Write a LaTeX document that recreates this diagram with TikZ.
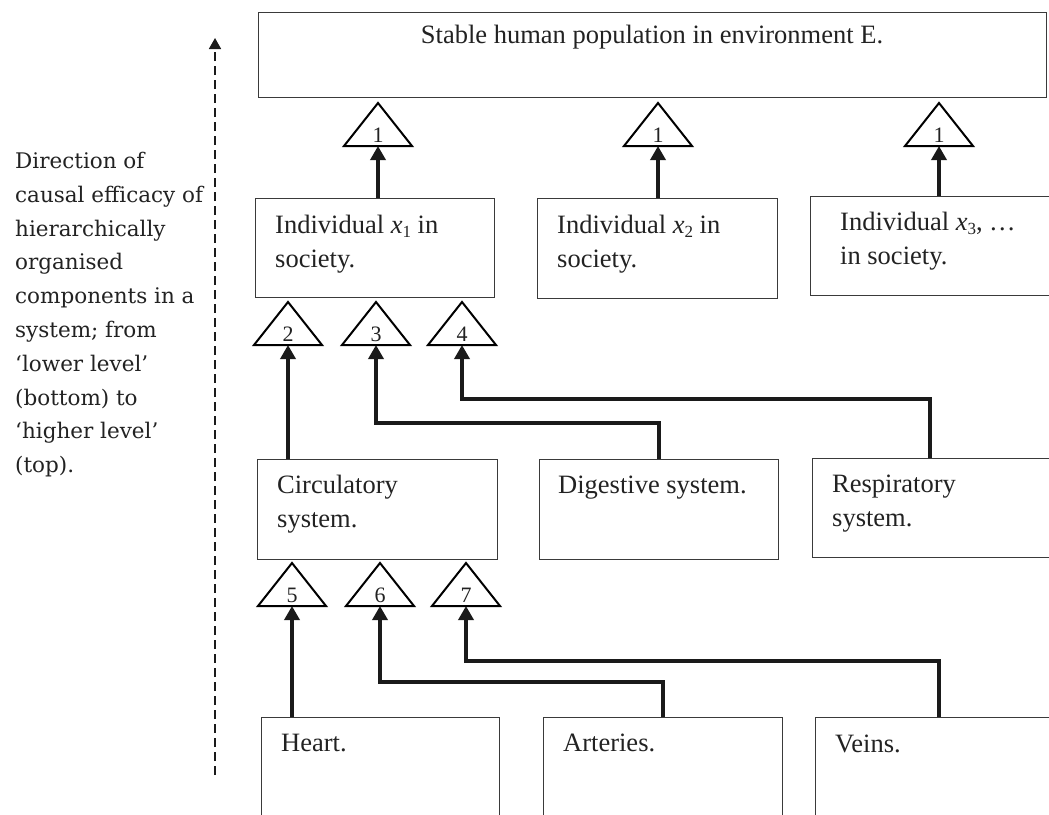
\documentclass[tikz,border=0pt]{standalone}
\usepackage{fontspec}
\setmainfont{Liberation Serif}
\newfontfamily\leftfont{DejaVu Serif}
\usetikzlibrary{arrows.meta,calc}
\definecolor{boxgray}{HTML}{3A3A3A}
\definecolor{textblack}{HTML}{222222}
\definecolor{arrowblack}{HTML}{1A1A1A}
\newcommand\mysub[1]{\raisebox{-4pt}{\fontsize{17}{17}\selectfont #1}}
\newcommand\mytri[4]{%
  \draw[tri] (#2,#3) -- ++(-34,43) -- ++(68,0) -- cycle;
  \coordinate (#1) at (#2,#3+43);
  \node[num] (#1n) at (#2,#3+39) {#4};}
\begin{document}
\begin{tikzpicture}[x=1pt,y=-1pt,
  box/.style={draw=boxgray, line width=1.2pt, rectangle, inner sep=0pt, anchor=north west},
  txt/.style={anchor=base west, inner sep=0pt, font=\fontsize{26.5}{34}\selectfont, text=textblack, align=left},
  tri/.style={draw=black, line width=2pt, line join=miter, fill=white},
  num/.style={anchor=base, inner sep=0pt, font=\fontsize{22}{22}\selectfont, text=textblack},
  arr/.style={line width=3.4pt, draw=arrowblack, -{Triangle[width=15pt,length=14pt]}, line join=miter},
  dasharr/.style={line width=1.7pt, draw=arrowblack, dash pattern=on 9pt off 5pt, -{Triangle[width=12pt,length=11pt]}}
]
\useasboundingbox (0,0) rectangle (1049,814);
\clip (0,0) rectangle (1049,814);

% boxes
\node[box, minimum width=788pt, minimum height=85pt] (top) at (258,12) {};
\node[box, minimum width=239pt, minimum height=99pt] (ind1) at (255,198) {};
\node[box, minimum width=240pt, minimum height=100pt] (ind2) at (537,198) {};
\node[box, minimum width=250pt, minimum height=99pt] (ind3) at (810,196) {};
\node[box, minimum width=240pt, minimum height=100pt] (circ) at (257,459) {};
\node[box, minimum width=239pt, minimum height=100pt] (dig) at (539,459) {};
\node[box, minimum width=250pt, minimum height=99pt] (resp) at (812,458) {};
\node[box, minimum width=238pt, minimum height=120pt] (heart) at (261,717) {};
\node[box, minimum width=239pt, minimum height=120pt] (art) at (543,717) {};
\node[box, minimum width=250pt, minimum height=120pt] (veins) at (815,717) {};

% texts (anchor = baseline of last line)
\node[txt, anchor=base] (toptxt) at (652,43) {Stable human population in environment E.};
\node[txt] (ind1t) at (275,267) {Individual \textit{x}\mysub{1} in\\society.};
\node[txt] (ind2t) at (557,267) {Individual \textit{x}\mysub{2} in\\society.};
\node[txt] (ind3t) at (840,264) {Individual \textit{x}\mysub{3}, …\\in society.};
\node[txt] (circt) at (277,527) {Circulatory\\system.};
\node[txt] (digt) at (558,493) {Digestive system.};
\node[txt] (respt) at (832,526) {Respiratory\\system.};
\node[txt] (heartt) at (281,751) {Heart.};
\node[txt] (artt) at (563,751) {Arteries.};
\node[txt] (veinst) at (835,752) {Veins.};

% left description
\node[anchor=north west, inner sep=0pt, align=left, text=textblack,
      font=\leftfont\fontsize{21.5}{33.8}\selectfont] (desc) at (15,152)
  {Direction of\\causal efficacy of\\hierarchically\\organised\\components in a\\system; from\\‘lower level’\\(bottom) to\\‘higher level’\\(top).};
\coordinate (dlow) at (215,775);
\coordinate (dhigh) at (215,38);
\draw[dasharr] (dlow) -- (dhigh);

% arrow end points (triangle bases)
\coordinate (t1a) at (378,146);
\coordinate (t1b) at (658,146);
\coordinate (t1c) at (939,146);
\coordinate (t2) at (288,345);
\coordinate (t3) at (376,345);
\coordinate (t4) at (462,345);
\coordinate (t5) at (292,606);
\coordinate (t6) at (380,606);
\coordinate (t7) at (466,606);

\draw[arr] (t1a |- ind1.north) -- (t1a);
\draw[arr] (t1b |- ind2.north) -- (t1b);
\draw[arr] (t1c |- ind3.north) -- (t1c);
\draw[arr] (t2 |- circ.north) -- (t2);
\draw[arr] (dig.north) -- ++(0,-36) -| (t3);
\draw[arr] ($(resp.north west)+(118,0)$) -- ++(0,-59) -| (t4);
\draw[arr] (t5 |- heart.north) -- (t5);
\draw[arr] (art.north) -- ++(0,-35) -| (t6);
\draw[arr] ($(veins.north west)+(124,0)$) -- ++(0,-56) -| (t7);

% triangles
\mytri{t1an}{378}{103}{1}
\mytri{t1bn}{658}{103}{1}
\mytri{t1cn}{939}{103}{1}
\mytri{t2n}{288}{302}{2}
\mytri{t3n}{376}{302}{3}
\mytri{t4n}{462}{302}{4}
\mytri{t5n}{292}{563}{5}
\mytri{t6n}{380}{563}{6}
\mytri{t7n}{466}{563}{7}
\end{tikzpicture}
\end{document}
